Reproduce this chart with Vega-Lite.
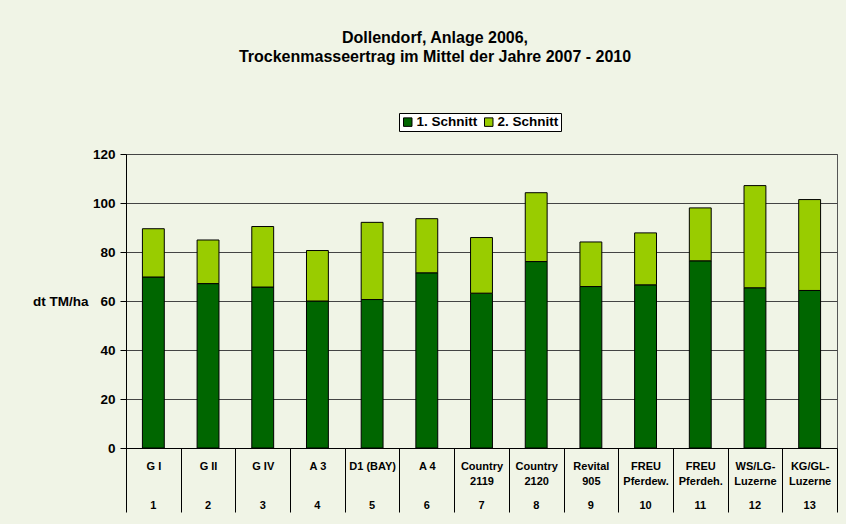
{
  "$schema": "https://vega.github.io/schema/vega-lite/v6.json",
  "width": 711,
  "height": 294,
  "autosize": "none",
  "padding": {"left": 126, "top": 154, "right": 9, "bottom": 76},
  "background": "#F0F4E6",
  "title": {
    "text": ["Dollendorf, Anlage 2006,", "Trockenmasseertrag im Mittel der Jahre 2007 - 2010"],
    "font": "Liberation Sans",
    "fontSize": 16,
    "fontWeight": "bold",
    "color": "#000000",
    "lineHeight": 19,
    "anchor": "middle",
    "frame": "bounds",
    "offset": 48
  },
  "config": {
    "view": {"stroke": "#555555", "strokeWidth": 1, "fill": "#F0F4E6"},
    "font": "Liberation Sans"
  },
  "data": {
    "values": [
      {"Nr": 1, "Sorte": "G I", "Schnitt": "1. Schnitt", "Ertrag": 69.8},
      {"Nr": 1, "Sorte": "G I", "Schnitt": "2. Schnitt", "Ertrag": 19.7},
      {"Nr": 2, "Sorte": "G II", "Schnitt": "1. Schnitt", "Ertrag": 67.1},
      {"Nr": 2, "Sorte": "G II", "Schnitt": "2. Schnitt", "Ertrag": 17.8},
      {"Nr": 3, "Sorte": "G IV", "Schnitt": "1. Schnitt", "Ertrag": 65.7},
      {"Nr": 3, "Sorte": "G IV", "Schnitt": "2. Schnitt", "Ertrag": 24.7},
      {"Nr": 4, "Sorte": "A 3", "Schnitt": "1. Schnitt", "Ertrag": 60.0},
      {"Nr": 4, "Sorte": "A 3", "Schnitt": "2. Schnitt", "Ertrag": 20.6},
      {"Nr": 5, "Sorte": "D1 (BAY)", "Schnitt": "1. Schnitt", "Ertrag": 60.6},
      {"Nr": 5, "Sorte": "D1 (BAY)", "Schnitt": "2. Schnitt", "Ertrag": 31.5},
      {"Nr": 6, "Sorte": "A 4", "Schnitt": "1. Schnitt", "Ertrag": 71.5},
      {"Nr": 6, "Sorte": "A 4", "Schnitt": "2. Schnitt", "Ertrag": 22.1},
      {"Nr": 7, "Sorte": "Country\n2119", "Schnitt": "1. Schnitt", "Ertrag": 63.2},
      {"Nr": 7, "Sorte": "Country\n2119", "Schnitt": "2. Schnitt", "Ertrag": 22.7},
      {"Nr": 8, "Sorte": "Country\n2120", "Schnitt": "1. Schnitt", "Ertrag": 76.1},
      {"Nr": 8, "Sorte": "Country\n2120", "Schnitt": "2. Schnitt", "Ertrag": 28.1},
      {"Nr": 9, "Sorte": "Revital\n905", "Schnitt": "1. Schnitt", "Ertrag": 65.9},
      {"Nr": 9, "Sorte": "Revital\n905", "Schnitt": "2. Schnitt", "Ertrag": 18.2},
      {"Nr": 10, "Sorte": "FREU\nPferdew.", "Schnitt": "1. Schnitt", "Ertrag": 66.6},
      {"Nr": 10, "Sorte": "FREU\nPferdew.", "Schnitt": "2. Schnitt", "Ertrag": 21.2},
      {"Nr": 11, "Sorte": "FREU\nPferdeh.", "Schnitt": "1. Schnitt", "Ertrag": 76.4},
      {"Nr": 11, "Sorte": "FREU\nPferdeh.", "Schnitt": "2. Schnitt", "Ertrag": 21.6},
      {"Nr": 12, "Sorte": "WS/LG-\nLuzerne", "Schnitt": "1. Schnitt", "Ertrag": 65.4},
      {"Nr": 12, "Sorte": "WS/LG-\nLuzerne", "Schnitt": "2. Schnitt", "Ertrag": 41.7},
      {"Nr": 13, "Sorte": "KG/GL-\nLuzerne", "Schnitt": "1. Schnitt", "Ertrag": 64.3},
      {"Nr": 13, "Sorte": "KG/GL-\nLuzerne", "Schnitt": "2. Schnitt", "Ertrag": 37.1}
    ]
  },
  "layer": [
    {
      "mark": {"type": "bar", "stroke": "#000000", "strokeWidth": 1, "width": {"band": 0.4}},
      "encoding": {
        "x": {
          "field": "Sorte",
          "type": "nominal",
          "sort": null,
          "scale": {"paddingInner": 0, "paddingOuter": 0},
          "axis": {
            "title": null,
            "orient": "bottom",
            "labelAngle": 0,
            "labelFont": "Liberation Sans",
            "labelFontSize": 11,
            "labelFontWeight": "bold",
            "labelColor": "#000000",
            "labelLineHeight": 15,
            "labelBaseline": "top",
            "labelPadding": -52,
            "labelLimit": 60,
            "labelExpr": "datum.index < 0 ? '' : split(datum.value, '\\n')",
            "tickBand": "extent",
            "tickSize": 64,
            "tickColor": "#000000",
            "domainColor": "#000000",
            "grid": false
          }
        },
        "y": {
          "field": "Ertrag",
          "type": "quantitative",
          "stack": "zero",
          "scale": {"domain": [0, 120]},
          "axis": {
            "values": [0, 20, 40, 60, 80, 100, 120],
            "title": "dt TM/ha",
            "titleAngle": 0,
            "titleAlign": "right",
            "titleBaseline": "middle",
            "titleX": -38,
            "titleY": 147,
            "titleFont": "Liberation Sans",
            "titleFontSize": 13.5,
            "titleFontWeight": "bold",
            "titleColor": "#000000",
            "labelFont": "Liberation Sans",
            "labelFontSize": 13.5,
            "labelFontWeight": "bold",
            "labelColor": "#000000",
            "labelPadding": 5,
            "tickSize": 6,
            "tickColor": "#000000",
            "domainColor": "#000000",
            "gridColor": "#444444",
            "gridWidth": 1
          }
        },
        "color": {
          "field": "Schnitt",
          "type": "nominal",
          "scale": {"domain": ["1. Schnitt", "2. Schnitt"], "range": ["#006600", "#99CC00"]},
          "legend": {
            "title": null,
            "orient": "none",
            "direction": "horizontal",
            "legendX": 273,
            "legendY": -41,
            "fillColor": "#FFFFFF",
            "strokeColor": "#000000",
            "padding": 2,
            "symbolType": "square",
            "symbolSize": 72,
            "symbolStrokeColor": "#000000",
            "symbolStrokeWidth": 1,
            "symbolOpacity": 1,
            "labelFont": "Liberation Sans",
            "labelFontSize": 13.5,
            "labelFontWeight": "bold",
            "labelColor": "#000000",
            "labelOffset": 2,
            "columnPadding": 4
          }
        },
        "order": {"field": "Schnitt", "sort": "ascending"}
      }
    },
    {
      "mark": {"type": "tick", "opacity": 0},
      "encoding": {
        "x": {
          "field": "Sorte",
          "type": "nominal",
          "sort": null,
          "axis": {
            "title": null,
            "orient": "bottom",
            "labelAngle": 0,
            "labelFont": "Liberation Sans",
            "labelFontSize": 11,
            "labelFontWeight": "bold",
            "labelColor": "#000000",
            "labelBaseline": "top",
            "labelPadding": 51,
            "labelExpr": "round(datum.index * 12) + 1",
            "ticks": false,
            "domain": false,
            "grid": false
          }
        }
      }
    }
  ],
  "resolve": {"axis": {"x": "independent"}}
}
